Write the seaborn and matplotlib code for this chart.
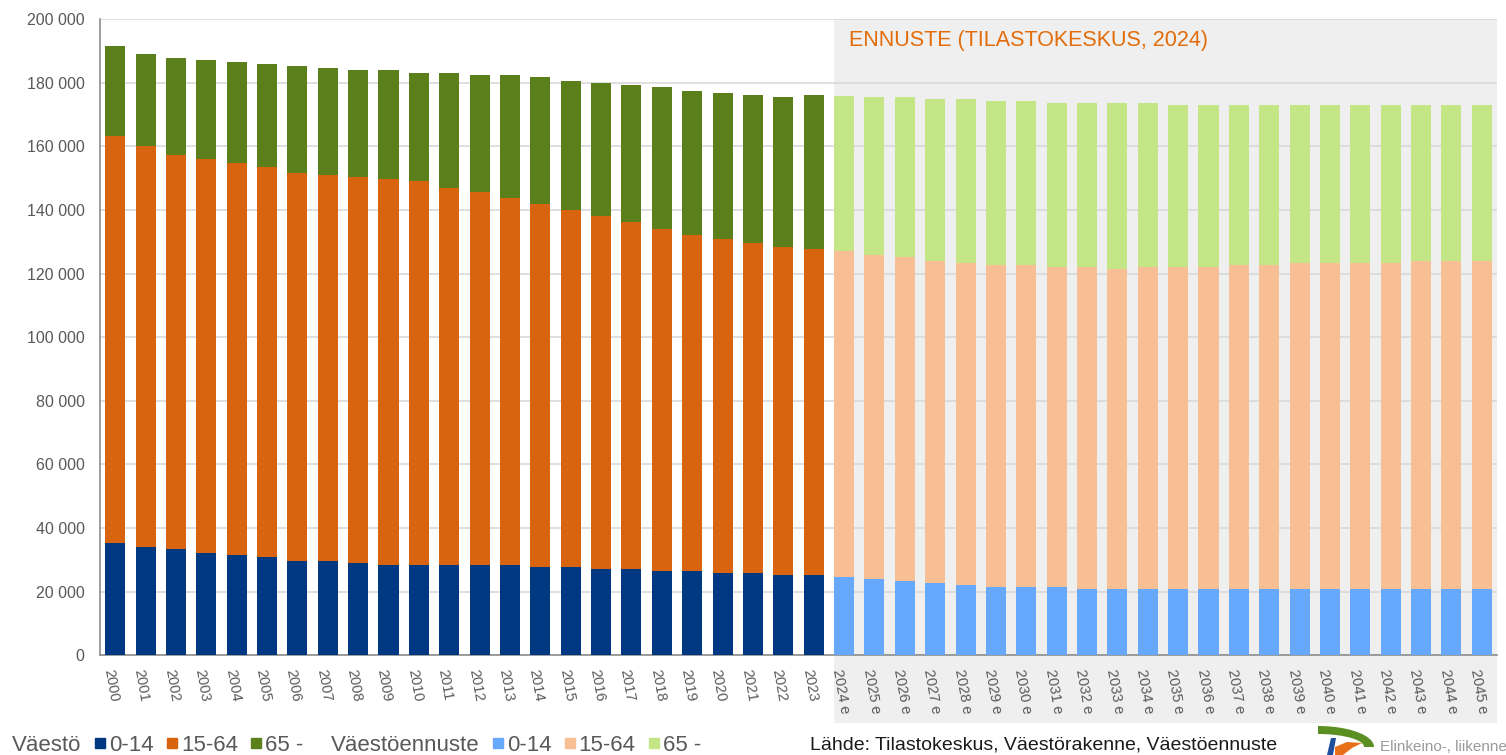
import matplotlib
matplotlib.use("Agg")
import matplotlib.pyplot as plt
import matplotlib.patches as mpatches
from matplotlib.lines import Line2D
from matplotlib.ticker import FuncFormatter
import matplotlib.transforms as mtransforms
import seaborn as sns
import pandas as pd
import numpy as np

# --- data (persons) ---
years_hist = list(range(2000, 2024))
years_fcst = list(range(2024, 2046))

hist_0_14 = [35400, 34200, 33500, 32300, 31600, 30900, 29700, 29700, 29000, 28400,
             28400, 28400, 28400, 28400, 27800, 27800, 27100, 27100, 26500, 26500,
             25900, 25900, 25300, 25300]
hist_15_64 = [127800, 125800, 123800, 123800, 123200, 122700, 121900, 121300, 121300, 121300,
              120700, 118700, 117400, 115400, 114100, 112200, 111000, 109100, 107700, 105700,
              105000, 103800, 103100, 102400]
hist_65 = [28400, 29100, 30500, 31000, 31800, 32300, 33600, 33600, 33600, 34200,
           34100, 36100, 36800, 38800, 40100, 40700, 42000, 43200, 44500, 45300,
           45800, 46400, 47100, 48400]

fcst_0_14 = [24500, 23900, 23300, 22600, 22000, 21400, 21400, 21400, 20800, 20800, 20800,
             20800, 20800, 20800, 20800, 20800, 20800, 20800, 20800, 20800, 20800, 20800]
fcst_15_64 = [102600, 101900, 101900, 101300, 101300, 101300, 101300, 100600, 101200, 100600, 101200,
              101200, 101200, 101900, 101900, 102500, 102500, 102500, 102500, 103100, 103100, 103100]
fcst_65 = [48900, 49700, 50300, 51000, 51600, 51500, 51500, 51600, 51600, 52200, 51600,
           51000, 51000, 50300, 50300, 49700, 49700, 49700, 49700, 49100, 49100, 49100]

groups = ["0-14", "15-64", "65 -"]
colors_hist = ["#003882", "#D9640F", "#5B7F1A"]
colors_fcst = ["#66A8FC", "#F8BF94", "#C4E687"]

labels = [str(y) for y in years_hist] + [f"{y} e" for y in years_fcst]

df = pd.DataFrame({
    "label": labels,
    "period": ["hist"] * len(years_hist) + ["fcst"] * len(years_fcst),
    "a0_14": hist_0_14 + fcst_0_14,
    "a15_64": hist_15_64 + fcst_15_64,
    "a65": hist_65 + fcst_65,
})
# cumulative heights for stacking (drawn tallest first)
df["c1"] = df["a0_14"]
df["c2"] = df["c1"] + df["a15_64"]
df["c3"] = df["c2"] + df["a65"]

sns.set_style("white")
plt.rcParams["font.family"] = ["Liberation Sans", "DejaVu Sans"]

fig = plt.figure(figsize=(15.06, 7.55), dpi=100)
ax = fig.add_axes([100 / 1506, 1 - 655.3 / 755, 1397 / 1506, 636 / 755])

txt_gray = "#595959"

for col, k in [("c3", 2), ("c2", 1), ("c1", 0)]:
    sns.barplot(data=df, x="label", y=col, hue="period", order=labels,
                palette={"hist": colors_hist[k], "fcst": colors_fcst[k]},
                dodge=False, width=0.66, saturation=1, legend=False,
                linewidth=0, ax=ax, zorder=3)

n = len(labels)
ax.set_xlim(-0.5, n - 0.5)
ax.set_ylim(0, 200000)
ax.set_yticks(range(0, 200001, 20000))
ax.yaxis.set_major_formatter(FuncFormatter(lambda v, p: f"{v:,.0f}".replace(",", " ")))
ax.set_xlabel("")
ax.set_ylabel("")

ax.set_axisbelow(True)
ax.yaxis.grid(True, color="#d9d9d9", linewidth=1.2)
ax.xaxis.grid(False)
for s in ["top", "right"]:
    ax.spines[s].set_visible(False)
for s in ["left", "bottom"]:
    ax.spines[s].set_color("#8c8c8c")
    ax.spines[s].set_linewidth(1.2)

ax.tick_params(axis="y", length=0, pad=11, labelsize=11.5, labelcolor=txt_gray)
ax.tick_params(axis="x", length=0, pad=9, labelsize=10.5, labelcolor=txt_gray)
for t in ax.get_xticklabels():
    t.set_rotation(-80)
    t.set_ha("left")
    t.set_va("top")
    t.set_rotation_mode("anchor")

# forecast shading, extends under the tick labels
start = len(years_hist) - 0.33
trans = mtransforms.blended_transform_factory(ax.transData, ax.transAxes)
ax.add_patch(mpatches.Rectangle((start, -0.106), n - 0.5 - start, 1.106,
                                transform=trans, color="#efefef", zorder=0,
                                clip_on=False, linewidth=0))
ax.text(start + 0.5, 0.967, "ENNUSTE (TILASTOKESKUS, 2024)", transform=trans,
        color="#E36C0A", fontsize=15.5, ha="left", va="center", zorder=4)

# legend row at the bottom
blank = Line2D([], [], linestyle="", marker=None)
hh = [Line2D([], [], linestyle="", marker="s", markersize=7.5, color=c) for c in colors_hist]
fh = [Line2D([], [], linestyle="", marker="s", markersize=7.5, color=c) for c in colors_fcst]
fig.legend([blank] + hh + [blank] + fh,
           ["Väestö"] + groups + ["Väestöennuste"] + groups,
           loc="center left", bbox_to_anchor=(-0.0015, 0.013), ncol=8, frameon=False,
           fontsize=16, labelcolor=txt_gray, handlelength=0.5, handletextpad=0.15,
           columnspacing=0.58, borderpad=0, borderaxespad=0)

fig.text(810 / 1506, 0.013, "Lähde: Tilastokeskus, Väestörakenne, Väestöennuste",
         fontsize=14, color="#1a1a1a", ha="left", va="center")

# rough logo at bottom right (pixel units inside a small axes)
lax = fig.add_axes([1312 / 1506, 0, 70 / 1506, 35 / 755])
lax.set_xlim(0, 70)
lax.set_ylim(0, 35)
lax.axis("off")
th = np.linspace(0, np.pi / 2, 30)
outer = np.column_stack([6 + 56 * np.cos(th), 8 + 21 * np.sin(th)])
inner = np.column_stack([6 + 46 * np.cos(th[::-1]), 8 + 13 * np.sin(th[::-1])])
lax.add_patch(mpatches.Polygon(np.vstack([outer, inner]), color="#5B8F22", linewidth=0))
lax.add_patch(mpatches.Polygon([[15, 0], [21, 0], [24, 17], [19, 17]], color="#1F4E9C", linewidth=0))
lax.add_patch(mpatches.Polygon([[23, 0], [23, 8], [35, 13], [50, 12], [40, 7], [31, 0]],
                               color="#E8701A", linewidth=0))
fig.text(1380 / 1506, 0.01, "Elinkeino-, liikenne", fontsize=11,
         color="#9a9a9a", ha="left", va="center")

fig.savefig("out.png", dpi=100)
